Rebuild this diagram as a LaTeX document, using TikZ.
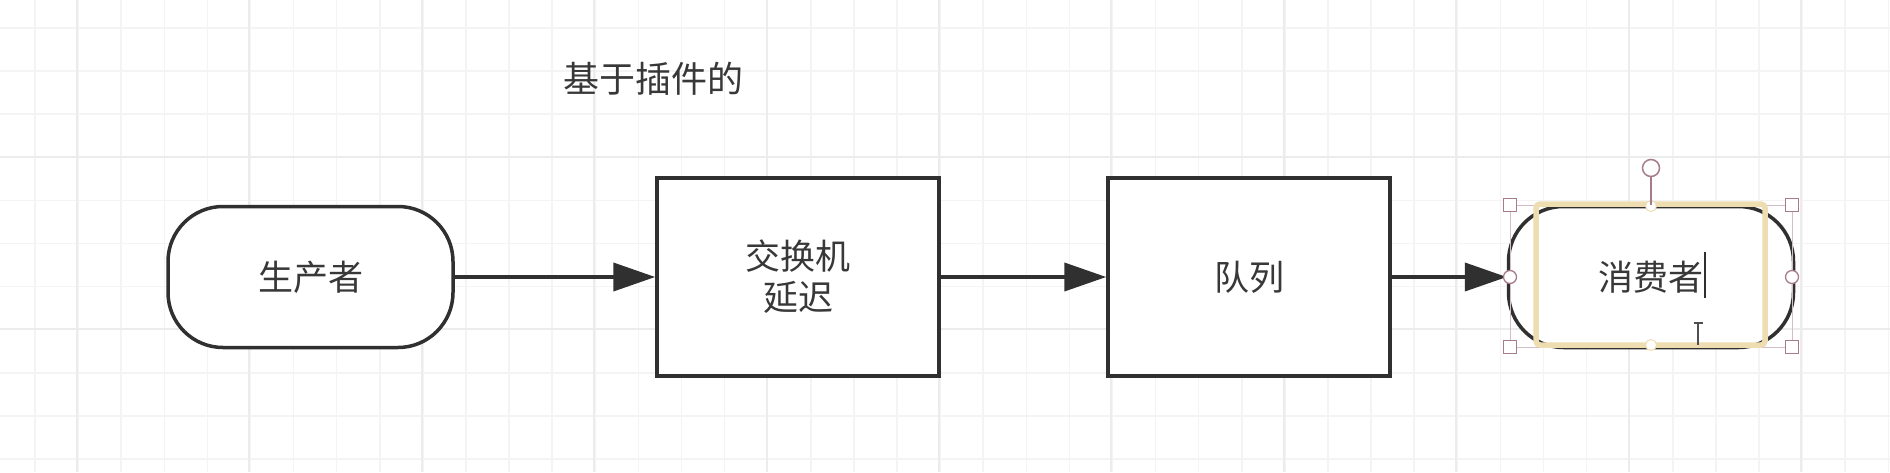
\documentclass[tikz,border=0pt]{standalone}
\usepackage{fontspec}
\setmainfont{Noto Sans CJK SC}
\usetikzlibrary{arrows.meta}
\definecolor{ink}{HTML}{303030}
\definecolor{txt}{HTML}{383838}
\definecolor{gridminor}{HTML}{F4F4F4}
\definecolor{gridmajor}{HTML}{ECECEC}
\definecolor{selc}{HTML}{A67B8C}
\definecolor{editc}{HTML}{EEDDB0}
\begin{document}
\begin{tikzpicture}[x=1pt,y=-1pt,
  shapebox/.style={draw=ink, line width=3.5pt, fill=white, text=txt,
    font=\fontsize{35}{41}\selectfont, align=center, inner sep=0pt},
  stadium/.style={shapebox, rounded corners=55pt, minimum width=285pt, minimum height=141pt},
  procbox/.style={shapebox, minimum width=282pt, minimum height=198pt},
  flow/.style={draw=ink, line width=4pt, -{Triangle[length=42pt,width=28pt]}},
  handle/.style={draw=selc, fill=white, line width=1.3pt},
  gridline/.style={draw=gridminor, line width=1.5pt},
  gridbold/.style={draw=gridmajor, line width=2pt}
]
\useasboundingbox (0,0) rectangle (1890,472);
\fill[white] (0,0) rectangle (1890,472);
\begin{scope}
\clip (0,0) rectangle (1890,472);
\foreach \i in {0,...,43} \draw[gridline] ({35+43.1*\i},0) -- ({35+43.1*\i},472);
\foreach \j in {0,...,10} \draw[gridline] (0,{28+43.1*\j}) -- (1890,{28+43.1*\j});
\foreach \i in {0,...,10} \draw[gridbold] ({77+172.4*\i},0) -- ({77+172.4*\i},472);
\foreach \j in {0,1} \draw[gridbold] (0,{157+172.4*\j}) -- (1890,{157+172.4*\j});
\end{scope}

\node[text=txt, font=\fontsize{36}{40}\selectfont, inner sep=0pt] (title) at (653,79) {基于插件的};

\node[stadium] (producer) at (310.5,277) {生产者};
\node[procbox] (exchange) at (798,277) {交换机\\延迟};
\node[procbox] (queue) at (1249,277) {队列};
\node[stadium] (consumer) at (1651,277) {消费者};

\draw[flow] (producer.east) -- (exchange.west);
\draw[flow] (exchange.east) -- (queue.west);
\draw[flow] (queue.east) -- (consumer.west);

% selection / editing decoration on the consumer
\draw[selc!50, line width=1pt] (1510,205) rectangle (1792,347);
\draw[editc, line width=5.5pt, rounded corners=4pt] (1536,204) rectangle (1765,345);
\foreach \p in {(1510,205),(1792,205),(1510,347),(1792,347)}
  \draw[handle] \p ++(-6.5,-6.5) rectangle ++(13,13);
\draw[handle] (1510,277) circle (6.5);
\draw[handle] (1792,277) circle (6.5);
\draw[draw=editc, fill=white, line width=1pt] (1651,206) circle (5.5);
\draw[draw=editc, fill=white, line width=1pt] (1651,345) circle (5.5);
\draw[selc, line width=1.5pt] (1651,177) -- (1651,205);
\draw[handle, line width=1.5pt] (1651,168) circle (8.5);
% text cursor and I-beam pointer
\draw[ink, line width=1.6pt] (1705,252) -- (1705,298);
\draw[ink!85, line width=1.5pt] (1698,323) -- (1698,345);
\draw[ink!85, line width=1.5pt] (1693.5,323) -- (1702.5,323);
\end{tikzpicture}
\end{document}
